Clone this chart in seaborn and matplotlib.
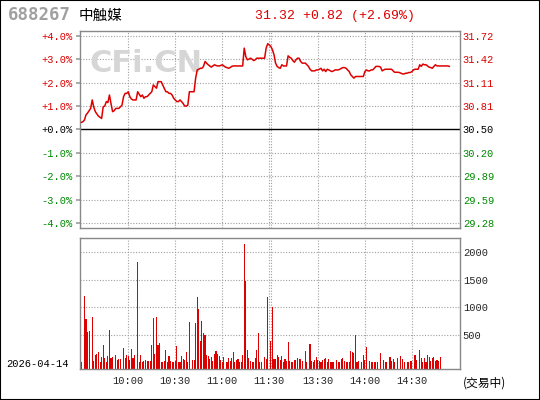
import matplotlib
matplotlib.use('Agg')
import matplotlib.pyplot as plt
import seaborn as sns
from matplotlib.patches import Rectangle

# header / quote
stock_code = '688267'
stock_name = '中触媒'
last_quote = '31.32 +0.82 (+2.69%)'
trade_date = '2026-04-14'
trade_status = '(交易中)'

# axis ticks
pct_ticks = [4, 3, 2, 1, 0, -1, -2, -3, -4]
pct_labels = ['+4.0%', '+3.0%', '+2.0%', '+1.0%', '+0.0%', '-1.0%', '-2.0%', '-3.0%', '-4.0%']
price_labels = ['31.72', '31.42', '31.11', '30.81', '30.50', '30.20', '29.89', '29.59', '29.28']
time_ticks = [30, 60, 90, 120, 151, 181, 211]
time_labels = ['10:00', '10:30', '11:00', '11:30', '13:30', '14:00', '14:30']
lunch_break = 121
vol_ticks = [500, 1000, 1500, 2000]
vol_labels = ['500', '1000', '1500', '2000']

# change vs previous close (%), one value per minute since 9:30
pct_change = [
    0.30, 0.33, 0.40, 0.62, 0.70, 0.80, 0.90, 1.26, 0.95, 0.76,
    0.66, 0.57, 0.52, 0.47, 0.97, 1.00, 1.19, 1.15, 1.47, 1.10,
    0.76, 0.80, 0.90, 0.90, 0.90, 0.97, 1.04, 1.40, 1.54, 1.54,
    1.61, 1.40, 1.30, 1.26, 1.26, 1.26, 1.61, 1.50, 1.40, 1.47,
    1.33, 1.40, 1.40, 1.47, 1.54, 1.61, 1.90, 1.83, 1.76, 2.04,
    2.04, 2.04, 1.90, 1.76, 1.61, 1.61, 1.54, 1.54, 1.47, 1.33,
    1.26, 1.19, 1.19, 1.26, 1.19, 1.11, 1.00, 1.00, 1.04, 1.61,
    1.61, 1.61, 1.61, 2.19, 2.54, 2.57, 2.61, 2.61, 2.69, 2.90,
    2.83, 2.76, 2.71, 2.66, 2.71, 2.76, 2.73, 2.71, 2.71, 2.73,
    2.76, 2.71, 2.66, 2.64, 2.61, 2.64, 2.69, 2.71, 2.71, 2.71,
    2.71, 2.71, 2.71, 2.71, 3.47, 3.11, 2.97, 3.00, 3.04, 3.00,
    2.94, 2.97, 3.04, 3.04, 3.04, 3.04, 3.04, 3.04, 3.47, 3.66,
    3.60, 3.54, 3.40, 3.19, 2.83, 2.69, 2.64, 2.61, 2.76, 2.71,
    2.71, 2.71, 3.14, 3.08, 3.04, 2.94, 2.87, 2.97, 3.04, 3.04,
    2.90, 2.83, 2.83, 2.83, 2.76, 2.69, 2.57, 2.50, 2.50, 2.50,
    2.54, 2.54, 2.57, 2.61, 2.50, 2.57, 2.47, 2.57, 2.54, 2.50,
    2.47, 2.50, 2.54, 2.54, 2.54, 2.57, 2.61, 2.64, 2.64, 2.61,
    2.54, 2.47, 2.33, 2.26, 2.19, 2.26, 2.26, 2.26, 2.26, 2.26,
    2.26, 2.47, 2.54, 2.50, 2.50, 2.54, 2.54, 2.61, 2.69, 2.69,
    2.69, 2.66, 2.50, 2.54, 2.57, 2.57, 2.57, 2.57, 2.57, 2.50,
    2.44, 2.44, 2.44, 2.43, 2.40, 2.37, 2.37, 2.40, 2.40, 2.43,
    2.43, 2.47, 2.54, 2.57, 2.57, 2.57, 2.76, 2.69, 2.79, 2.76,
    2.76, 2.71, 2.66, 2.64, 2.61, 2.69, 2.76, 2.71, 2.71, 2.71,
    2.71, 2.71, 2.71, 2.71, 2.71, 2.69,
]

# volume per minute (0 = no bar)
volume = [
    18, 0, 1205, 795, 560, 572, 0, 825, 30, 145,
    163, 193, 5, 108, 325, 84, 12, 127, 596, 90,
    108, 0, 145, 54, 72, 72, 0, 265, 90, 145,
    127, 48, 247, 84, 145, 0, 1825, 5, 145, 18,
    36, 54, 30, 36, 36, 325, 813, 163, 825, 325,
    355, 12, 12, 36, 229, 5, 127, 30, 18, 18,
    36, 307, 5, 18, 127, 72, 54, 199, 18, 741,
    0, 54, 54, 723, 1193, 976, 398, 759, 542, 506,
    145, 127, 72, 108, 36, 163, 217, 163, 127, 54,
    18, 108, 0, 18, 90, 36, 90, 199, 5, 54,
    72, 18, 18, 145, 2151, 1482, 235, 90, 36, 18,
    18, 90, 235, 542, 5, 18, 0, 108, 72, 1193,
    0, 398, 1012, 72, 72, 145, 108, 54, 127, 5,
    72, 36, 380, 36, 5, 5, 54, 54, 90, 72,
    72, 36, 0, 217, 5, 0, 343, 36, 18, 54,
    108, 54, 36, 18, 54, 72, 90, 18, 72, 5,
    18, 5, 0, 54, 5, 18, 72, 90, 36, 5,
    18, 18, 217, 199, 181, 506, 5, 36, 0, 18,
    145, 54, 289, 0, 36, 5, 18, 18, 5, 5,
    0, 181, 0, 54, 18, 5, 0, 108, 36, 72,
    5, 0, 90, 0, 127, 72, 5, 0, 18, 5,
    36, 36, 0, 145, 54, 0, 235, 90, 18, 90,
    18, 145, 108, 36, 90, 108, 36, 54, 36, 108,
]

RED = '#dd0000'
GREEN = '#008800'
GRID = '#a0a0a0'
FRAME = '#888888'
MONO = 'Liberation Mono'
CJK = ['Noto Sans CJK SC', 'DejaVu Sans']

sns.set_theme(style='white')
plt.rcParams['font.family'] = ['DejaVu Sans', 'Noto Sans CJK SC']

fig = plt.figure(figsize=(5.4, 4.0), dpi=100)
fig.patch.set_facecolor('white')
ax = fig.add_axes([80 / 540, 1 - 228 / 400, 380 / 540, 197 / 400])
axv = fig.add_axes([80 / 540, 1 - 369 / 400, 380 / 540, 131 / 400])

xlim = (-0.8, 241.7)
minutes = list(range(len(pct_change)))

# ---- price panel ----
for a in (ax, axv):
    a.set_xlim(*xlim)
    for s in a.spines.values():
        s.set_color(FRAME)
        s.set_linewidth(1.0)
    for t in time_ticks + [lunch_break]:
        a.axvline(t, color=GRID, lw=0.8, ls=(0, (1, 1.5)), zorder=0)

for p in pct_ticks:
    if p == 0:
        ax.axhline(0, color='black', lw=1.0, zorder=1)
    else:
        ax.axhline(p, color=GRID, lw=0.8, ls=(0, (1, 1.5)), zorder=0)

ax.text(0.026, 0.835, 'CFi.CN', transform=ax.transAxes, fontsize=22,
        fontweight='bold', color='#d6d6d6', va='center', ha='left', zorder=0)

sns.lineplot(x=minutes, y=pct_change, ax=ax, color=RED, linewidth=1.1,
             estimator=None, zorder=3)
ax.set_ylim(-4.2, 4.2)
ax.set_xticks([])
ax.set_yticks(pct_ticks)
ax.set_yticklabels(pct_labels, fontsize=7.5, family=MONO)
ax.tick_params(axis='y', length=3, color=GRID, pad=2, left=True)
for lab, p in zip(ax.get_yticklabels(), pct_ticks):
    lab.set_color(RED if p > 0 else (GREEN if p < 0 else 'black'))

axr = ax.twinx()
axr.set_ylim(ax.get_ylim())
axr.set_yticks(pct_ticks)
axr.set_yticklabels(price_labels, fontsize=7.5, family=MONO)
axr.tick_params(axis='y', length=0, pad=2)
for s in axr.spines.values():
    s.set_visible(False)
for lab, p in zip(axr.get_yticklabels(), pct_ticks):
    lab.set_color(RED if p > 0 else (GREEN if p < 0 else 'black'))

# ---- volume panel ----
vol_floor = -114
axv.set_ylim(vol_floor, 2253)
for v in vol_ticks:
    axv.axhline(v, color=GRID, lw=0.8, ls=(0, (1, 1.5)), zorder=0)
bar_x = [i for i, v in enumerate(volume) if v > 0]
bar_h = [volume[i] - vol_floor for i in bar_x]
axv.bar(bar_x, bar_h, bottom=vol_floor, width=0.7, color=RED, linewidth=0,
        antialiased=False, zorder=2)
axv.yaxis.tick_right()
axv.set_yticks(vol_ticks)
axv.set_yticklabels(vol_labels, fontsize=7.5, family=MONO)
axv.tick_params(axis='y', length=0, pad=2)
axv.set_xticks(time_ticks)
axv.set_xticklabels(time_labels, fontsize=7.5, family=MONO)
axv.tick_params(axis='x', length=0, pad=5)

# ---- header and footer texts ----
fig.text(8 / 540, 1 - 15.5 / 400, stock_code, fontsize=12.5, family='DejaVu Sans Mono',
         fontweight='bold', color='#a0a0a0', va='center')
fig.text(79 / 540, 1 - 15.5 / 400, stock_name, fontsize=10.5, family=CJK,
         color='black', va='center')
fig.text(255 / 540, 1 - 15.5 / 400, last_quote, fontsize=9.5, family=MONO,
         color=RED, va='center')
fig.text(6 / 540, 1 - 364 / 400, trade_date, fontsize=7.5, family=MONO,
         color='black', va='center')
fig.text(463 / 540, 1 - 383 / 400, trade_status, fontsize=8.5, family=CJK,
         color='black', va='center')

fig.patches.append(Rectangle((0, 0), 1, 1, transform=fig.transFigure, fill=False,
                             edgecolor='black', linewidth=1.5))

fig.savefig('out.png', dpi=100)
